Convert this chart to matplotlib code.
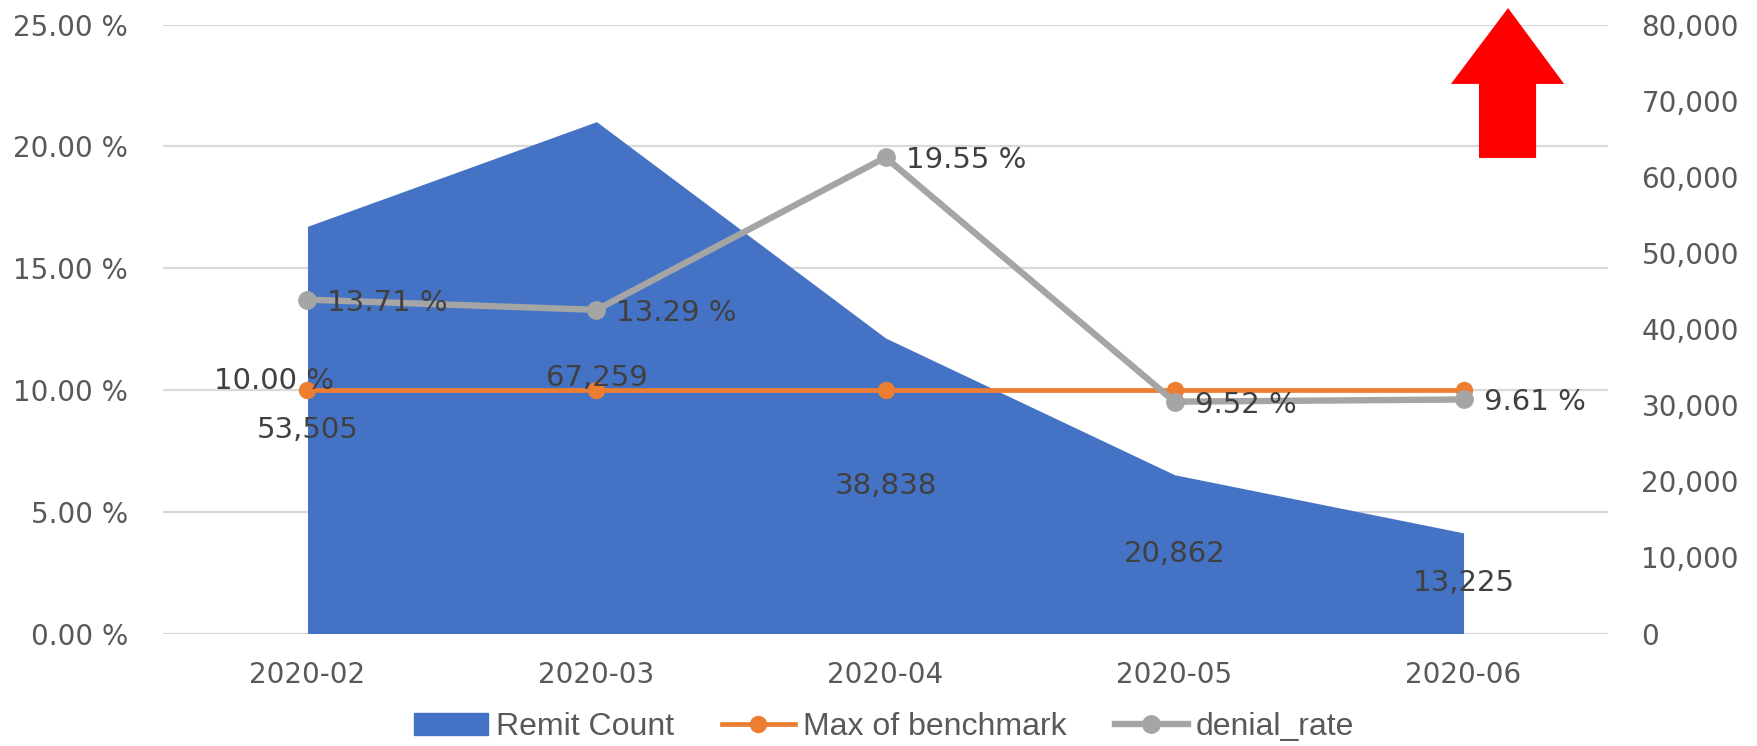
import matplotlib
matplotlib.use('Agg')
import matplotlib.pyplot as plt
from matplotlib.patches import Polygon, Patch
from matplotlib.lines import Line2D
from matplotlib.ticker import FuncFormatter, MultipleLocator

# Datos mensuales
months = ['2020-02', '2020-03', '2020-04', '2020-05', '2020-06']
remit_count = [53505, 67259, 38838, 20862, 13225]
benchmark = [0.10, 0.10, 0.10, 0.10, 0.10]
denial_rate = [0.1371, 0.1329, 0.1955, 0.0952, 0.0961]

# Colores
blue = '#4472C4'
orange = '#ED7D31'
gray = '#A5A5A5'
tick_color = '#595959'
label_color = '#404040'

fig = plt.figure(figsize=(17.58, 7.46), dpi=100)
ax = fig.add_axes([0.0927, 0.1508, 0.8220, 0.8161])
ax2 = ax.twinx()

x = list(range(len(months)))

ax.set_xlim(-0.5, len(months) - 0.5)
ax.set_ylim(0, 0.25)
ax2.set_ylim(0, 80000)

# Área de remesas (escala derecha), dibujada en el eje principal para que quede
# por debajo de las líneas
ax.fill_between(x, remit_count, color=blue, linewidth=0, zorder=1,
                transform=ax2.transData)
for i, v in enumerate(remit_count):
    ax.text(i, v / 2, f'{v:,}', transform=ax2.transData, ha='center',
            va='center', fontsize=21, color=label_color, zorder=6)

# Líneas de benchmark y tasa de rechazo
ax.plot(x, benchmark, color=orange, lw=3.4, marker='o', ms=11.5, zorder=3)
ax.plot(x, denial_rate, color=gray, lw=4.6, marker='o', ms=12.5, zorder=4)

for i, v in enumerate(denial_rate):
    ax.annotate(f'{v * 100:.2f} %', (i, v), xytext=(20, -3),
                textcoords='offset pixels', ha='left', va='center',
                fontsize=21, color=label_color, zorder=6)
ax.annotate(f'{benchmark[0] * 100:.2f} %', (0, benchmark[0]), xytext=(-33, 9),
            textcoords='offset pixels', ha='center', va='center',
            fontsize=21, color=label_color, zorder=6)

# Ejes y rejilla
ax.yaxis.set_major_locator(MultipleLocator(0.05))
ax.yaxis.set_major_formatter(FuncFormatter(lambda v, p: f'{v * 100:.2f} %'))
ax2.yaxis.set_major_locator(MultipleLocator(10000))
ax2.yaxis.set_major_formatter(FuncFormatter(lambda v, p: f'{int(round(v)):,}'))

ax.set_axisbelow(True)
ax.yaxis.grid(True, color='#D9D9D9', lw=1.6)
ax.xaxis.grid(False)

ax.set_xticks(x, months)
ax.tick_params(axis='x', length=0, pad=20, labelsize=20, colors=tick_color)
ax.tick_params(axis='y', length=0, pad=25, labelsize=20, colors=tick_color)
ax2.tick_params(axis='y', length=0, pad=24, labelsize=20, colors=tick_color)

for a in (ax, ax2):
    for s in a.spines.values():
        s.set_visible(False)

# Flecha roja
arrow = Polygon([(0.9308, 1.0274), (0.9696, 0.9027), (0.9502, 0.9027),
                 (0.9502, 0.7811), (0.9107, 0.7811), (0.9107, 0.9027),
                 (0.8913, 0.9027)],
                closed=True, transform=ax.transAxes, facecolor='#FF0000',
                edgecolor='none', clip_on=False, zorder=7)
ax.add_patch(arrow)

# Leyenda
handles = [
    Patch(color=blue),
    Line2D([], [], color=orange, lw=3.4, marker='o', ms=11.5),
    Line2D([], [], color=gray, lw=4.6, marker='o', ms=12.5),
]
fig.legend(handles, ['Remit Count', 'Max of benchmark', 'denial_rate'],
           loc='center', bbox_to_anchor=(0.503, 19 / 746), ncol=3,
           frameon=False, labelcolor=tick_color, handlelength=2.3,
           handletextpad=0.25, columnspacing=1.5, borderpad=0,
           prop={'family': 'Liberation Sans', 'size': 23})

fig.savefig('out.png', dpi=100)
